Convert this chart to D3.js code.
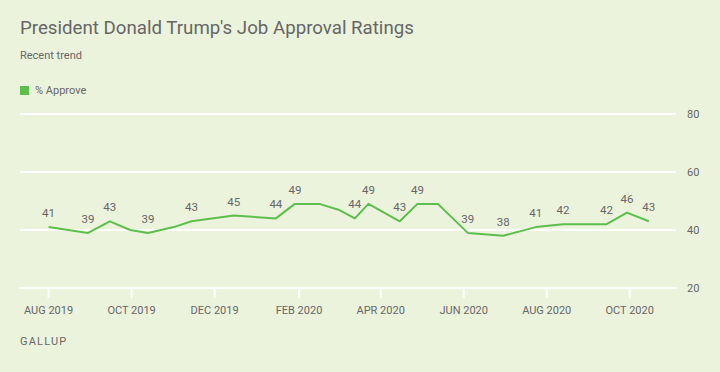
<!DOCTYPE html>
<html>
<head>
<meta charset="utf-8">
<script src="https://cdn.jsdelivr.net/npm/d3@7"></script>
<style>
  body { margin: 0; background: #ecf3dd; }
  text { font-family: Roboto, "Noto Sans", sans-serif; fill: #666; }
</style>
</head>
<body>
<script>
const width = 720, height = 372;
const margin = {left: 20, right: 44, top: 115, bottom: 84};

// poll dates (as plotted) and % approve
const dates = ['2019-08-01', '2019-08-30', '2019-09-15', '2019-09-30', '2019-10-13', '2019-11-01',
  '2019-11-14', '2019-12-15', '2020-01-15', '2020-01-29', '2020-02-16', '2020-03-01',
  '2020-03-13', '2020-03-23', '2020-04-15', '2020-04-28', '2020-05-13', '2020-06-04',
  '2020-06-30', '2020-07-24', '2020-08-13', '2020-09-14', '2020-09-29', '2020-10-15'];
const approve = [41, 39, 43, 40, 39, 41, 43, 45, 44, 49, 49, 47, 44, 49, 43, 49, 49, 39, 38, 41, 42, 42, 46, 43];
const showLabel = [1, 1, 1, 0, 1, 0, 1, 1, 1, 1, 0, 0, 1, 1, 1, 1, 0, 1, 1, 1, 1, 1, 1, 1];
const yTicks = [20, 40, 60, 80];
const xTicks = ['2019-08-01', '2019-10-01', '2019-12-01', '2020-02-01', '2020-04-01', '2020-06-01', '2020-08-01', '2020-10-01'];

const parse = d3.utcParse('%Y-%m-%d');
const data = dates.map((d, i) => ({date: parse(d), value: approve[i], label: showLabel[i]}));

const svg = d3.select('body').append('svg')
  .attr('width', width)
  .attr('height', height);

const x = d3.scaleUtc()
  .domain([parse('2019-07-11'), parse('2020-11-04')])
  .range([margin.left, width - margin.right]);

const y = d3.scaleLinear()
  .domain([20, 80])
  .range([height - margin.bottom, margin.top - 1]);

svg.append('text')
  .attr('x', 20).attr('y', 34)
  .style('font-size', '18.7px')
  .text("President Donald Trump's Job Approval Ratings");

svg.append('text')
  .attr('x', 20).attr('y', 59)
  .style('font-size', '11px')
  .text('Recent trend');

svg.append('rect')
  .attr('x', 20).attr('y', 86)
  .attr('width', 9).attr('height', 9)
  .attr('fill', '#5cbf4b');

svg.append('text')
  .attr('x', 35).attr('y', 94)
  .style('font-size', '11px')
  .text('% Approve');

// gridlines
svg.append('g')
  .selectAll('line')
  .data(yTicks)
  .join('line')
    .attr('x1', margin.left)
    .attr('x2', width - margin.right)
    .attr('y1', d => y(d))
    .attr('y2', d => y(d))
    .attr('stroke', '#fff')
    .attr('stroke-width', 2);

svg.append('g')
  .selectAll('text')
  .data(yTicks)
  .join('text')
    .attr('x', 687)
    .attr('y', d => y(d) + 4)
    .style('font-size', '11px')
    .text(d => d);

// x ticks
const xt = svg.append('g')
  .selectAll('g')
  .data(xTicks.map(parse))
  .join('g')
    .attr('transform', d => `translate(${x(d)},0)`);

xt.append('line')
  .attr('y1', y(20))
  .attr('y2', y(20) + 10)
  .attr('stroke', '#fff')
  .attr('stroke-width', 2);

xt.append('text')
  .attr('y', 314)
  .attr('text-anchor', 'middle')
  .style('font-size', '11px')
  .text(d => d3.utcFormat('%b %Y')(d).toUpperCase());

// line
const line = d3.line()
  .x(d => x(d.date))
  .y(d => y(d.value));

svg.append('path')
  .datum(data)
  .attr('fill', 'none')
  .attr('stroke', '#5cbf4b')
  .attr('stroke-width', 2)
  .attr('stroke-linejoin', 'round')
  .attr('d', line);

svg.append('g')
  .selectAll('text')
  .data(data.filter(d => d.label))
  .join('text')
    .attr('x', d => x(d.date))
    .attr('y', d => y(d.value) - 10)
    .attr('text-anchor', 'middle')
    .style('font-size', '11.5px')
    .text(d => d.value);

svg.append('text')
  .attr('x', 20).attr('y', 345)
  .style('font-size', '11px')
  .style('letter-spacing', '1.2px')
  .text('GALLUP');
</script>
</body>
</html>
